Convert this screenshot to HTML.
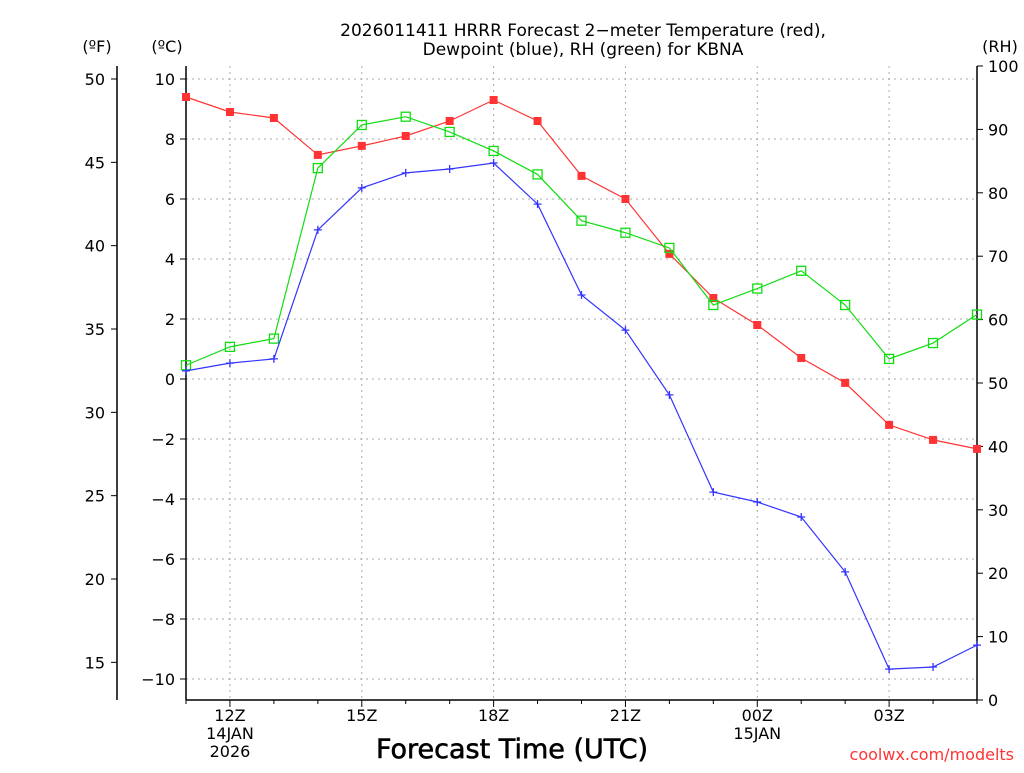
<!DOCTYPE html>
<html><head><meta charset="utf-8"><style>
body{margin:0;background:#fff;width:1024px;height:768px;overflow:hidden}
svg text{font-family:"DejaVu Sans","Liberation Sans",sans-serif}
</style></head><body>
<svg id="c" width="1024" height="768" fill="#000"></svg>
<script>
const hours=["11","12","13","14","15","16","17","18","19","20","21","22","23","00","01","02","03","04","05"];
const tempC=[9.4,8.9,8.7,7.47,7.77,8.1,8.6,9.3,8.6,6.77,6.0,4.17,2.7,1.8,0.7,-0.13,-1.53,-2.03,-2.33];
const dewC=[0.27,0.53,0.67,4.97,6.37,6.87,7.0,7.2,5.83,2.8,1.63,-0.53,-3.77,-4.1,-4.6,-6.43,-9.67,-9.6,-8.87];
const rh=[52.8,55.7,57.0,83.9,90.7,92.0,89.6,86.6,82.9,75.6,73.7,71.3,62.3,64.9,67.7,62.3,53.8,56.3,60.8];
const cTicks=[-10,-8,-6,-4,-2,0,2,4,6,8,10];
const fTicks=[15,20,25,30,35,40,45,50];
const rhTicks=[0,10,20,30,40,50,60,70,80,90,100];
const xLabels=[[1,"12Z","14JAN","2026"],[4,"15Z"],[7,"18Z"],[10,"21Z"],[13,"00Z","15JAN"],[16,"03Z"]];

const NS="http://www.w3.org/2000/svg",svg=document.getElementById('c');
const L=186,R=977,T=66,B=700;
const x=i=>L+i*(R-L)/18;
const yC=c=>379-c*30;
const yF=f=>yC((f-32)/1.8);
const yR=r=>B-r*(B-T)/100;
function el(t,a,txt){const e=document.createElementNS(NS,t);for(const k in a)e.setAttribute(k,a[k]);if(txt!=null)e.textContent=txt;svg.appendChild(e);return e;}
function txt(x0,y0,s,anchor,size,fill){return el('text',{x:x0,y:y0,'text-anchor':anchor||'middle','font-size':size||16,fill:fill||'#000'},s);}

for(const c of cTicks){const g=el('line',{x1:L,x2:R,y1:yC(c),y2:yC(c),stroke:'#aaa','stroke-dasharray':'2,4'});

}
for(const l of xLabels){const g=el('line',{x1:x(l[0]),x2:x(l[0]),y1:T,y2:B,stroke:'#aaa','stroke-dasharray':'2,4'});

}
el('line',{x1:L,x2:L,y1:T,y2:B,stroke:'#000','stroke-width':1.5});
el('line',{x1:R,x2:R,y1:T,y2:B,stroke:'#000','stroke-width':1.5});
el('line',{x1:L,x2:R,y1:B,y2:B,stroke:'#000','stroke-width':1.5});
el('line',{x1:117,x2:117,y1:T,y2:B,stroke:'#000','stroke-width':1.5});
for(const c of cTicks){el('line',{x1:L-6,x2:L,y1:yC(c),y2:yC(c),stroke:'#000'});
const t=txt(175,yC(c)+6,(c<0?'\u2212':'')+Math.abs(c),'end',16);

}
for(const f of fTicks){el('line',{x1:111,x2:117,y1:yF(f),y2:yF(f),stroke:'#000'});
const t=txt(105,yF(f)+6,String(f),'end',16);

}
for(const r of rhTicks){el('line',{x1:R,x2:R+6,y1:yR(r),y2:yR(r),stroke:'#000'});
const t=txt(988,yR(r)+6,String(r),'start',16);

}
for(let i=0;i<19;i++){const big=xLabels.some(l=>l[0]===i);el('line',{x1:x(i),x2:x(i),y1:B,y2:B+(big?7:4),stroke:'#000'});}
for(const l of xLabels){for(let k=1;k<l.length;k++){const t=txt(x(l[0]),B+21+(k-1)*18,l[k],'middle',16);

}}
txt(97,52,'(ºF)','middle',16);txt(167,52,'(ºC)','middle',16);txt(1000,52,'(RH)','middle',16);
const t1=txt(583,36,'2026011411 HRRR Forecast 2\u2212meter Temperature (red),','middle',17);

txt(583,55,'Dewpoint (blue), RH (green) for KBNA','middle',17);
const xt=txt(512,758,'Forecast Time (UTC)','middle',27);
xt.setAttribute('stroke','#000');xt.setAttribute('stroke-width','0.6');

const cr=txt(1014,760,'coolwx.com/modelts','end',16,'#f33');

function series(vals,yf,color,name,marker){
 const p=el('polyline',{points:vals.map((v,i)=>x(i)+','+yf(v)).join(' '),fill:'none',stroke:color,'stroke-width':1.2});
 
 
 vals.forEach((v,i)=>{const cx=x(i),cy=yf(v);let m;
  if(marker==='fill')m=el('rect',{x:cx-4,y:cy-4,width:8,height:8,fill:color});
  else if(marker==='open')m=el('rect',{x:cx-4.5,y:cy-4.5,width:9,height:9,fill:'none',stroke:color,'stroke-width':1.3});
  else m=el('path',{d:`M${cx-4},${cy}H${cx+4}M${cx},${cy-4}V${cy+4}`,stroke:color,'stroke-width':1.3});
  
  });
}
series(tempC,yC,'#f33','temperature','fill');
series(rh,yR,'#1d1','rh','open');
series(dewC,yC,'#33f','dewpoint','plus');
</script></body></html>
